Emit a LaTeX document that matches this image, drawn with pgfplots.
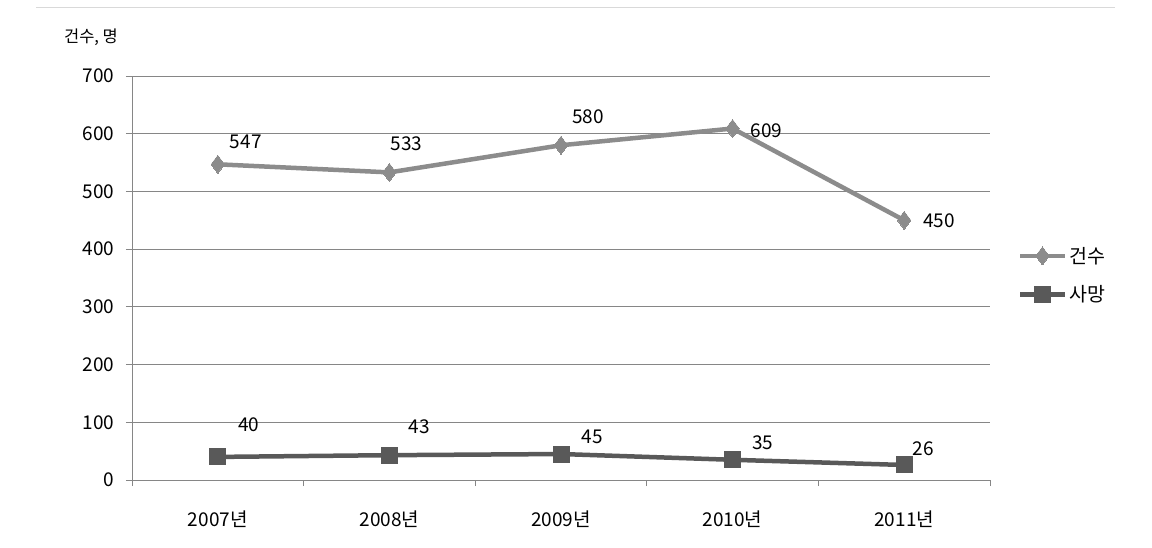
\documentclass[border=0pt]{standalone}
\usepackage{fontspec}
\setmainfont{Noto Sans CJK KR}
\usepackage{pgfplots}
\pgfplotsset{compat=1.18}
\usepackage{pgfplotstable}
\definecolor{caseC}{RGB}{140,140,140}
\definecolor{deathC}{RGB}{89,89,89}
\definecolor{gridC}{RGB}{134,134,134}
\definecolor{topC}{RGB}{217,217,217}

\pgfplotstableread{
x y dx dy
0 547 28 22
1 533 17 29
2 580 27 29
3 609 34 -2
4 450 35 0
}\casetable
\pgfplotstableread{
x y dx dy
0 40 31 32
1 43 30 28
2 45 31 17
3 35 30 17
4 26 19 16
}\deathtable

\begin{document}
\begin{tikzpicture}[x=1pt,y=1pt]
\path[use as bounding box] (0,0) rectangle (1152,547);
\draw[topC, line width=1pt] (36,539) -- (1115,539);
\node[font=\fontsize{16.5}{19}\selectfont, anchor=center] at (91,510) {건수, 명};
\begin{axis}[
  at={(132pt,67pt)}, anchor=south west,
  scale only axis, width=858pt, height=404pt,
  xmin=-0.5, xmax=4.5, ymin=0, ymax=700,
  xtick={0,1,2,3,4},
  xticklabels={2007년,2008년,2009년,2010년,2011년},
  minor xtick={-0.5,0.5,1.5,2.5,3.5,4.5},
  ytick={0,100,...,700},
  major x tick style={draw=none},
  tick align=outside,
  major tick length=6pt, minor tick length=6pt,
  tick style={gridC, line width=0.8pt},
  ymajorgrids, grid style={gridC, line width=0.8pt},
  axis x line*=bottom, axis y line*=left,
  axis line style={gridC, line width=0.8pt, -},
  /pgf/number format/assume math mode=true,
  tick label style={font=\fontsize{19}{22}\selectfont, text=black},
  xticklabel style={yshift=-21pt},
  yticklabel style={xshift=-8pt},
  clip=false,
  legend style={at={(axis description cs:1.0326,0.507)}, anchor=west, draw=none, fill=none,
     font=\fontsize{19.5}{22}\selectfont, row sep=17pt, inner sep=0pt,
     /tikz/every even column/.append style={column sep=3pt}},
  legend cell align=left,
  legend image code/.code={\draw[mark repeat=2,mark phase=2,#1] plot coordinates {(0pt,0pt) (22pt,0pt) (45pt,0pt)};},
  nodes near coords,
  every node near coord/.append style={font=\fontsize{19}{22}\selectfont, text=black, anchor=center, xshift=\dx pt, yshift=\dy pt},
  visualization depends on={\thisrow{dx} \as \dx},
  visualization depends on={\thisrow{dy} \as \dy},
]
\addplot[caseC, line width=4.5pt, mark=diamond*, mark size=9pt, mark options={line width=0pt}, point meta=explicit]
  table[x=x, y=y, meta=y] {\casetable};
\addlegendentry{건수}
\addplot[deathC, line width=4.5pt, mark=square*, mark size=8pt, mark options={line width=0pt}, point meta=explicit]
  table[x=x, y=y, meta=y] {\deathtable};
\addlegendentry{사망}
\end{axis}
\end{tikzpicture}
\end{document}
